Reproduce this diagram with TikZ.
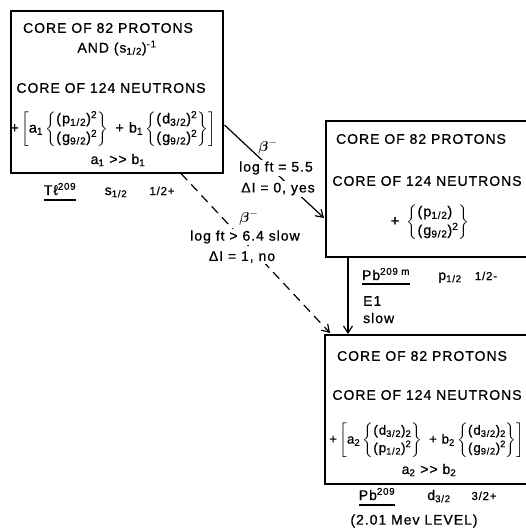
\documentclass[tikz,border=0pt]{standalone}
\usepackage{amsmath}
\usepackage{fontspec}
\setmainfont{Liberation Sans}[LetterSpace=7,FakeBold=0.8]
\usetikzlibrary{arrows.meta,calc}
\newcommand\sbs[1]{\textsubscript{#1}}
\newcommand\sps[1]{\textsuperscript{#1}}
\newcommand\stk[2]{\left\{\begin{tabular}{@{}l@{}}#1\\#2\end{tabular}\right\}}
\renewcommand\arraystretch{1.1}
\begin{document}
\begin{tikzpicture}[x=1pt,y=-1pt,
  box/.style={draw, line width=1.5pt, rectangle, inner sep=0, anchor=north west},
  txt/.style={inner sep=0, font=\fontsize{14}{17}\selectfont},
  expr/.style={inner sep=0, font=\fontsize{14.5}{17}\selectfont},
  exprb/.style={inner sep=0, font=\fontsize{13.4}{16}\selectfont},
  sm/.style={inner sep=0, font=\fontsize{11.5}{13}\selectfont},
  lab/.style={inner sep=1.5pt, fill=white, font=\fontsize{14}{16}\selectfont},
  beta/.style={inner sep=0, font=\fontsize{15}{17}\selectfont},
  arr/.style={line width=1.2pt, -{Straight Barb[length=7pt,width=9pt,line width=1.2pt]}},
  dsh/.style={arr, dash pattern=on 9pt off 6pt},
  uline/.style={line width=1.2pt}
]
\useasboundingbox (0,0) rectangle (526,531);
\clip (0,0) rectangle (526,531);

% boxes
\node[box, minimum width=212pt, minimum height=162pt] (box1) at (10,10) {};
\node[box, minimum width=215pt, minimum height=136pt] (box2) at (325,120) {};
\node[box, minimum width=215pt, minimum height=149pt] (box3) at (324,334) {};

% box 1 text
\node[txt] (t11) at (108,28) {CORE OF 82 PROTONS};
\node[txt] (t12) at (117,48) {AND (s\sbs{1/2})\sps{-1}};
\node[txt] (t13) at (111,88) {CORE OF 124 NEUTRONS};
\node[expr] (t14) at (113,129) {$\mbox{+}\left[\mbox{a\sbs{1}}\stk{(p\sbs{1/2})\sps{2}}{(g\sbs{9/2})\sps{2}}\mbox{ + b\sbs{1}}\stk{(d\sbs{3/2})\sps{2}}{(g\sbs{9/2})\sps{2}}\right]$};
\node[txt] (t15) at (118,160) {a\sbs{1} >{}> b\sbs{1}};

\node[txt, anchor=base] (tl) at (60,195) {Tℓ\sps{209}};
\draw[uline] ([yshift=-5pt]tl.base west) -- ([yshift=-5pt]tl.base east);
\node[txt, anchor=base] (tls) at (116,195) {s\sbs{1/2}};
\node[sm, anchor=base] (tlj) at (162,195) {1/2+};

% box 2 text
\node[txt] (t21) at (421,139) {CORE OF 82 PROTONS};
\node[txt] (t22) at (427,181) {CORE OF 124 NEUTRONS};
\node[expr] (t23) at (430,222) {$\mbox{+ }\stk{(p\sbs{1/2})}{(g\sbs{9/2})\sps{2}}$};

\node[txt, anchor=base] (pbm) at (386,280) {Pb\sps{209 m}};
\draw[uline] ([yshift=-4pt]pbm.base west) -- ([yshift=-4pt]pbm.base east);
\node[txt, anchor=base] (pbms) at (450,280) {p\sbs{1/2}};
\node[sm, anchor=base] (pbmj) at (486,280) {1/2-};
\node[txt, anchor=west] (e1) at (363,301) {E1};
\node[txt, anchor=west] (slow) at (363,318) {slow};

% box 3 text
\node[txt] (t31) at (422,356) {CORE OF 82 PROTONS};
\node[txt] (t32) at (427,395) {CORE OF 124 NEUTRONS};
\node[exprb, anchor=west] (t33) at (329,440) {$\mbox{+}\left[\mbox{a\sbs{2}}\stk{(d\sbs{3/2})\sbs{2}}{(p\sbs{1/2})\sps{2}}\mbox{ + b\sbs{2}}\stk{(d\sbs{3/2})\sbs{2}}{(g\sbs{9/2})\sps{2}}\right]$};
\node[txt] (t34) at (429,470) {a\sbs{2} >{}> b\sbs{2}};

\node[txt, anchor=base] (pb) at (377,500) {Pb\sps{209}};
\draw[uline] ([yshift=-5pt]pb.base west) -- ([yshift=-5pt]pb.base east);
\node[txt, anchor=base] (pbs) at (439,500) {d\sbs{3/2}};
\node[sm, anchor=base] (pbj) at (484,500) {3/2+};
\node[txt] (lev) at (414,521) {(2.01 Mev LEVEL)};

% connectors
\coordinate (a1s) at ($(box1.north east)+(1,115)$);
\coordinate (a1e) at ($(box2.north west)+(-1,98)$);
\draw[arr] (a1s) -- (a1e);
\coordinate (a2s) at ($(box1.south west)+(171,0)$);
\coordinate (a2e) at ($(box3.north west)+(6,-1)$);
\draw[dsh] (a2s) -- (a2e);
\coordinate (a3s) at ($(box2.south west)+(23,0)$);
\draw[arr] (a3s) -- (a3s |- box3.north);

% arrow labels
\node[lab] (l11) at (276,168) {log ft = 5.5};
\node[lab] (l12) at (278,189) {ΔI = 0, yes};
\node[beta] (l10) at (268,147) {$\boldsymbol{\beta}^{-}$};
\node[lab] (l21) at (245,237) {log ft > 6.4 slow};
\node[lab] (l22) at (242,257) {ΔI = 1, no};
\node[beta] (l20) at (249,218) {$\boldsymbol{\beta}^{-}$};
\end{tikzpicture}
\end{document}
